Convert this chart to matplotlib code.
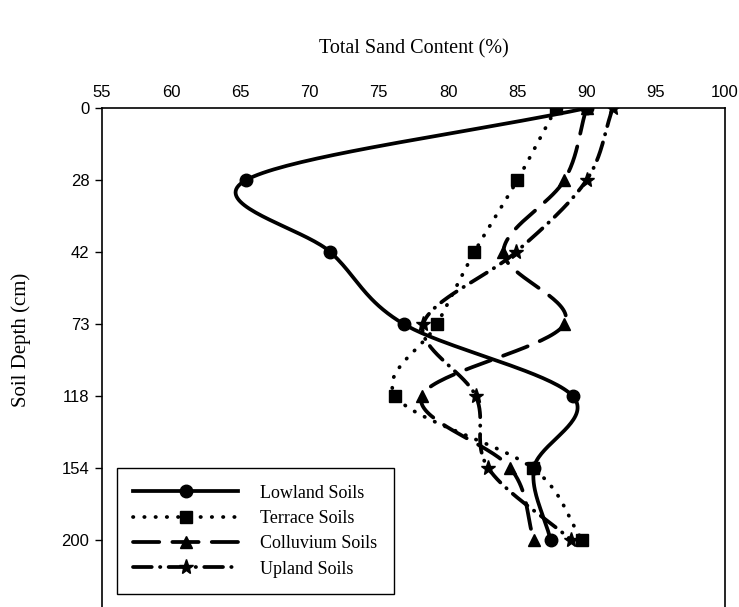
import numpy as np
import matplotlib
matplotlib.use("Agg")
import matplotlib.pyplot as plt

# Data (sand content %, per depth)
depths = ["0", "28", "42", "73", "118", "154", "200"]
lowland = [90.0, 65.4, 71.5, 76.8, 89.0, 86.2, 87.4]
terrace = [87.8, 85.0, 81.9, 79.2, 76.2, 86.1, 89.7]
colluvium = [90.0, 88.4, 84.0, 88.4, 78.1, 84.5, 86.2]
upland = [91.9, 90.0, 84.9, 78.2, 82.0, 82.9, 88.9]

seriesNames = ["Lowland Soils", "Terrace Soils", "Colluvium Soils", "Upland Soils"]


def splineCurve(vals, n=40):
    # Catmull-Rom (cubic Hermite) of the value against the depth index
    v = np.asarray(vals, dtype=float)
    ext = np.concatenate([[2 * v[0] - v[1]], v, [2 * v[-1] - v[-2]]])
    slopes = (ext[2:] - ext[:-2]) / 2
    outX, outY = [], []
    for i in range(len(v) - 1):
        s = np.linspace(0, 1, n, endpoint=(i == len(v) - 2))
        h00 = 2 * s ** 3 - 3 * s ** 2 + 1
        h10 = s ** 3 - 2 * s ** 2 + s
        h01 = -2 * s ** 3 + 3 * s ** 2
        h11 = s ** 3 - s ** 2
        outX.extend(h00 * v[i] + h10 * slopes[i] + h01 * v[i + 1] + h11 * slopes[i + 1])
        outY.extend(i + s)
    return np.array(outX), np.array(outY)


plt.rcParams["font.family"] = "Liberation Sans"

fig = plt.figure(figsize=(7.39, 6.07), dpi=100)
ax = fig.add_axes([0.138, -0.0082, 0.843, 0.830])

yIdx = np.arange(len(depths))

styles = [
    dict(ls="-", marker="o", ms=9),
    dict(ls=(0, (0.1, 2.9)), marker="s", ms=8.5),
    dict(ls=(0, (7, 3.5)), marker="^", ms=9),
    dict(ls=(0, (5, 2.2, 0.1, 2.2)), marker="*", ms=11),
]

for vals, name, st in zip([lowland, terrace, colluvium, upland], seriesNames, styles):
    cx, cy = splineCurve(vals)
    ax.plot(cx, cy, color="black", lw=2.7, ls=st["ls"], dash_capstyle="round",
            solid_capstyle="round")
    ax.plot(vals, yIdx, ls="none", marker=st["marker"], ms=st["ms"], color="black")
    # legend proxy
    ax.plot([], [], color="black", lw=2.7, ls=st["ls"], marker=st["marker"],
            ms=st["ms"], dash_capstyle="round", label=name)

ax.set_xlim(55, 100)
ax.set_ylim(7, 0)
ax.xaxis.tick_top()
ax.set_xticks(np.arange(55, 101, 5))
ax.set_yticks(yIdx)
ax.set_yticklabels(depths)
ax.tick_params(axis="x", length=0, pad=6, labelsize=12)
ax.tick_params(axis="y", length=5, width=1, direction="out", labelsize=12, pad=4)
for sp in ax.spines.values():
    sp.set_linewidth(1.2)

fig.text(0.56, 0.92, "Total Sand Content (%)", family="Liberation Serif",
         fontsize=14.5, ha="center", va="center")
fig.text(0.028, 0.44, "Soil Depth (cm)", family="Liberation Serif",
         fontsize=15, rotation=90, ha="center", va="center")

leg = ax.legend(loc="lower left", bbox_to_anchor=(0.024, 0.036), borderaxespad=0,
                prop={"family": "Liberation Serif", "size": 13},
                handlelength=5.8, handletextpad=1.25, numpoints=1,
                fancybox=False, edgecolor="black", framealpha=1,
                borderpad=0.9, labelspacing=0.46)
leg.get_frame().set_linewidth(1.0)

fig.savefig("out.png", dpi=100)
